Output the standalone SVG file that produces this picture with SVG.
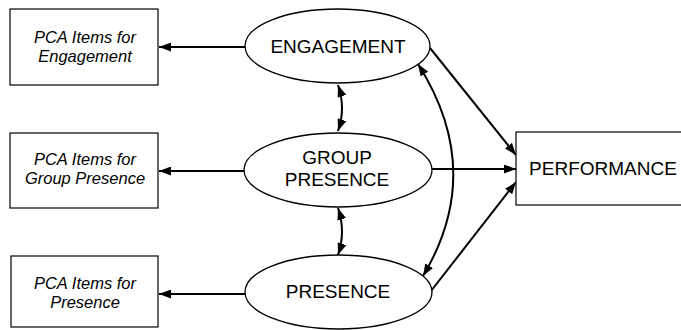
<svg xmlns="http://www.w3.org/2000/svg" width="681" height="330" viewBox="0 0 681 330">
<style>
.box{fill:#fff;stroke:#000;stroke-width:1.2}
.ell{fill:#fff;stroke:#000;stroke-width:1.3}
.lbl{font-family:"Liberation Sans",Arial,sans-serif;font-size:16.5px;font-style:italic;text-anchor:middle;fill:#000}
.big{font-family:"Liberation Sans",Arial,sans-serif;font-size:19px;text-anchor:middle;fill:#000}
.con{fill:none;stroke:#000;stroke-width:2}
</style>
<defs>
<marker id="ah" viewBox="0 0 12 9" refX="12" refY="4.5" markerWidth="12" markerHeight="9" markerUnits="userSpaceOnUse" orient="auto-start-reverse">
<path d="M0,0 L12,4.5 L0,9 z" fill="#000"/>
</marker>
</defs>
<g id="connectors">
<path class="con" d="M245,47 L159,47" marker-end="url(#ah)"/>
<path class="con" d="M244,171 L159,171" marker-end="url(#ah)"/>
<path class="con" d="M245,294 L159,294" marker-end="url(#ah)"/>
<path class="con" d="M338,85 Q346,108 338,131" marker-start="url(#ah)" marker-end="url(#ah)"/>
<path class="con" d="M338,208 Q346,232 338,255" marker-start="url(#ah)" marker-end="url(#ah)"/>
<path class="con" d="M418,64 Q486,171 423,276" marker-start="url(#ah)" marker-end="url(#ah)"/>
<path class="con" d="M430,48 L516,155" marker-end="url(#ah)"/>
<path class="con" d="M432,169 L516,169" marker-end="url(#ah)"/>
<path class="con" d="M431,291 L516,182" marker-end="url(#ah)"/>
</g>
<g id="pca-engagement">
<rect class="box" x="10" y="9" width="148" height="76"/>
<text class="lbl" x="85" y="43">PCA Items for</text>
<text class="lbl" x="85" y="62">Engagement</text>
</g>
<g id="pca-group-presence">
<rect class="box" x="10" y="133" width="148" height="75"/>
<text class="lbl" x="85" y="165">PCA Items for</text>
<text class="lbl" x="85" y="184">Group Presence</text>
</g>
<g id="pca-presence">
<rect class="box" x="11" y="256" width="147" height="71"/>
<text class="lbl" x="85" y="289">PCA Items for</text>
<text class="lbl" x="85" y="308">Presence</text>
</g>
<g id="engagement">
<ellipse class="ell" cx="337.5" cy="46" rx="92.5" ry="37"/>
<text class="big" x="338" y="53">ENGAGEMENT</text>
</g>
<g id="group-presence">
<ellipse class="ell" cx="338" cy="170" rx="94" ry="37"/>
<text class="big" x="337" y="164">GROUP</text>
<text class="big" x="337" y="186">PRESENCE</text>
</g>
<g id="presence">
<ellipse class="ell" cx="338.5" cy="292" rx="93.5" ry="37"/>
<text class="big" x="338" y="298">PRESENCE</text>
</g>
<g id="performance">
<rect class="box" x="516" y="132" width="175" height="73"/>
<text class="big" x="603" y="175">PERFORMANCE</text>
</g>
</svg>
